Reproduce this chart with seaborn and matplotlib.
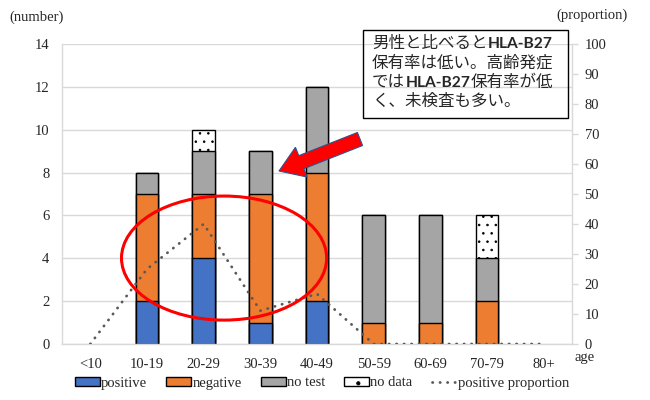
import numpy as np
import pandas as pd
import matplotlib
matplotlib.use("Agg")
import matplotlib.pyplot as plt
import matplotlib.patches as mpatches
from matplotlib.lines import Line2D
import seaborn as sns

# Age groups and case counts
ages = ["<10", "10-19", "20-29", "30-39", "40-49", "50-59", "60-69", "70-79", "80+"]
positive = [0, 2, 4, 1, 2, 0, 0, 0, 0]
negative = [0, 5, 3, 6, 6, 1, 1, 2, 0]
no_test = [0, 1, 2, 2, 4, 5, 5, 2, 0]
no_data = [0, 0, 1, 0, 0, 0, 0, 2, 0]
# HLA-B27 positive proportion (%)
positive_prop = [0, 25.0, 40.0, 11.1, 16.7, 0, 0, 0, 0]

sns.set_style("white")
plt.rcParams["font.family"] = ["Liberation Serif", "DejaVu Serif"]
plt.rcParams["hatch.linewidth"] = 0.6

df = pd.DataFrame({
    "age": ages,
    "positive": positive,
    "negative": negative,
    "no_test": no_test,
    "no_data": no_data,
})
df["c_neg"] = df["positive"] + df["negative"]
df["c_test"] = df["c_neg"] + df["no_test"]
df["c_all"] = df["c_test"] + df["no_data"]

W, H = 650, 400
fig = plt.figure(figsize=(6.5, 4.0), dpi=100)
ax = fig.add_axes([62 / W, 1 - 344 / H, (572 - 62) / W, (344 - 44) / H])

bar_kw = dict(order=ages, width=0.4, saturation=1, errorbar=None,
              edgecolor="black", linewidth=1.0, ax=ax)
# stacked bars: draw cumulative totals from the top layer down
sns.barplot(data=df, x="age", y="c_all", color="white", hatch="..", **bar_kw)
sns.barplot(data=df, x="age", y="c_test", color="#A5A5A5", **bar_kw)
sns.barplot(data=df, x="age", y="c_neg", color="#ED7D31", **bar_kw)
sns.barplot(data=df, x="age", y="positive", color="#4472C4", **bar_kw)
for p in ax.patches:
    if p.get_height() == 0:
        p.set_linewidth(0)

ax.set_xlim(-0.5, 8.5)
ax.set_ylim(0, 14)
ax.set_yticks(np.arange(0, 15, 2))
ax.set_xlabel("")
ax.set_ylabel("")
ax.yaxis.grid(True, color="#D9D9D9", linewidth=1)
ax.set_axisbelow(True)
for s in ["top", "right"]:
    ax.spines[s].set_visible(False)
for s in ["left", "bottom"]:
    ax.spines[s].set_color("#D9D9D9")
    ax.spines[s].set_linewidth(1)
ax.tick_params(axis="y", length=0, pad=9, labelsize=10.5, colors="#262626")
ax.tick_params(axis="x", length=0, pad=10, labelsize=10.5, colors="#262626")

# positive proportion on the secondary axis
ax2 = ax.twinx()
sns.lineplot(x=np.arange(len(ages)), y=positive_prop, ax=ax2, color="#595959",
             linewidth=2.0, linestyle=(0, (0.1, 2.6)),
             dash_capstyle="round", solid_capstyle="round")
ax2.set_ylim(0, 100)
ax2.set_yticks(np.arange(0, 101, 10))
ax2.set_ylabel("")
for s in ["top", "left", "bottom"]:
    ax2.spines[s].set_visible(False)
ax2.spines["right"].set_color("#D9D9D9")
ax2.spines["right"].set_linewidth(1)
ax2.tick_params(axis="y", length=4, width=1, color="#D9D9D9", pad=5,
                labelsize=10.5, labelcolor="#262626")

# highlight ellipse
ell = mpatches.Ellipse((2.36, 4.01), 3.62, 5.79, transform=ax.transData,
                       fill=False, edgecolor="#FF0000", linewidth=2.2, zorder=10)
ax2.add_patch(ell)

# red arrow pointing at the 30-39 bar
arrow = mpatches.FancyArrow(3.60, (H - 139) / 100, -0.81, -0.32,
                            width=0.14, head_width=0.32, head_length=0.24,
                            length_includes_head=True,
                            facecolor="#FF0000", edgecolor="#2F528F",
                            linewidth=0.8, transform=fig.dpi_scale_trans,
                            zorder=20)
fig.add_artist(arrow)

# axis titles
fig.text(37 / W, 1 - 17 / H, "(number)", ha="center", va="center",
         fontsize=10.5, color="#262626")
fig.text(592 / W, 1 - 15 / H, "(proportion)", ha="center", va="center",
         fontsize=10.5, color="#262626")
fig.text(585 / W, 1 - 357 / H, "age", ha="center", va="center",
         fontsize=10.5, color="#262626")

# annotation box
box = mpatches.Rectangle((363 / W, 1 - 118 / H), (568 - 363) / W, (118 - 30) / H,
                         transform=fig.transFigure, fill=False,
                         edgecolor="black", linewidth=1.0, zorder=20)
fig.add_artist(box)

jp = ["Noto Sans CJK JP", "DejaVu Sans"]
lines = [
    [("男性と比べると", False), ("HLA-B27", True)],
    [("保有率は低い。高齢発症", False)],
    [("では", False), ("HLA-B27", True), ("保有率が低", False)],
    [("く、未検査も多い。", False)],
]
renderer = fig.canvas.get_renderer()
y0 = 48
for i, runs in enumerate(lines):
    x = 372
    y = y0 + i * 19.3
    for txt, bold in runs:
        if bold:
            t = fig.text(x / W, 1 - y / H, txt, family=["Lato", "DejaVu Sans"],
                         fontsize=11.2, fontweight="bold", ha="left",
                         va="baseline", color="#262626", zorder=21)
        else:
            t = fig.text(x / W, 1 - y / H, txt, family=jp, fontsize=11.9,
                         ha="left", va="baseline", color="#262626", zorder=21)
        bb = t.get_window_extent(renderer)
        x = bb.x1 + 0.5

# legend
handles = [
    mpatches.Patch(facecolor="#4472C4", edgecolor="black", linewidth=1),
    mpatches.Patch(facecolor="#ED7D31", edgecolor="black", linewidth=1),
    mpatches.Patch(facecolor="#A5A5A5", edgecolor="black", linewidth=1),
    mpatches.Patch(facecolor="white", edgecolor="black", linewidth=1, hatch="."),
    Line2D([], [], color="#595959", linewidth=2.0, linestyle=(0, (0.1, 2.6)),
           dash_capstyle="round"),
]
labels = ["positive", "negative", "no test", "no data", "positive proportion"]
fig.legend(handles, labels, loc="center", bbox_to_anchor=(322 / W, 1 - 383 / H),
           ncol=5, frameon=False, fontsize=10.5, handlelength=1.7,
           handleheight=0.55, handletextpad=0.1, columnspacing=1.3,
           labelcolor="#262626")

fig.savefig("out.png", dpi=100)
